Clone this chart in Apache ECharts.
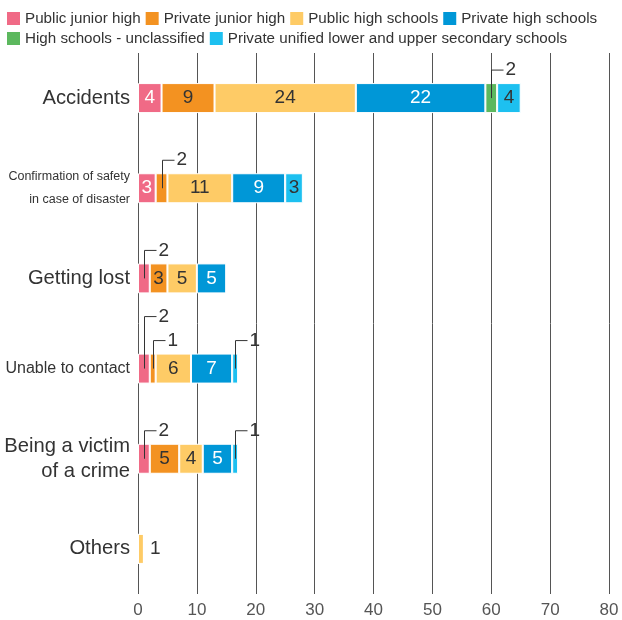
<!DOCTYPE html>
<html>
<head>
<meta charset="utf-8">
<script src="https://cdn.jsdelivr.net/npm/echarts@6/dist/echarts.min.js"></script>
<style>
  html, body { margin: 0; padding: 0; background: #fff; }
  #chart { width: 622px; height: 620px; }
</style>
</head>
<body>
<div id="chart"></div>
<script>
// Reasons given, by school type (number of schools)
const categories = [
  'Accidents',
  'Confirmation of safety\nin case of disaster',
  'Getting lost',
  'Unable to contact',
  'Being a victim\nof a crime',
  'Others'
];
const seriesNames = [
  'Public junior high',
  'Private junior high',
  'Public high schools',
  'Private high schools',
  'High schools - unclassified',
  'Private unified lower and upper secondary schools'
];
const publicJuniorHigh   = [4, 3, 2, 2, 2, 0];
const privateJuniorHigh  = [9, 2, 3, 1, 5, 0];
const publicHighSchools  = [24, 11, 5, 6, 4, 1];
const privateHighSchools = [22, 9, 5, 7, 5, 0];
const highUnclassified   = [2, 0, 0, 0, 0, 0];
const privateUnified     = [4, 3, 0, 1, 1, 0];
const xTicks = [0, 10, 20, 30, 40, 50, 60, 70, 80];

const values = [publicJuniorHigh, privateJuniorHigh, publicHighSchools,
                privateHighSchools, highUnclassified, privateUnified];
const colors = ['#F06A86', '#F39221', '#FECB66', '#0097D7', '#5CB85E', '#1DC0F0'];
const labelColors = ['#fff', '#333', '#333', '#fff', '#333', '#333'];

const BAR = 30;
const SANS = "'Liberation Sans', Arial, sans-serif";

// Small segments get a bracket leader; build them from the same arrays.
const callouts = [];
categories.forEach((c, ci) => {
  const nonZero = values.filter(v => v[ci] > 0).length;
  let start = 0;
  const row = [];
  values.forEach((v) => {
    const val = v[ci];
    if (val > 0 && val <= 2 && nonZero > 1) {
      row.push({ ci, mid: start + val / 2, val });
    }
    start += val;
  });
  // raise a leader when its right neighbour is too close
  for (let i = row.length - 1; i >= 0; i--) {
    let level = 0;
    if (i < row.length - 1 && row[i + 1].mid - row[i].mid < 3) level = row[i + 1].level + 1;
    row[i].level = level;
  }
  row.forEach(r => callouts.push([r.mid, r.ci, r.val, r.level]));
});

const barSeries = seriesNames.map((name, si) => ({
  name,
  type: 'bar',
  stack: 'total',
  barWidth: BAR,
  itemStyle: { color: colors[si], borderColor: '#fff', borderWidth: 1 },
  data: values[si].map((v, ci) => {
    const nonZero = values.filter(a => a[ci] > 0).length;
    const item = { value: v };
    if (v === 0) {
      item.label = { show: false };
    } else if (nonZero === 1 && v <= 2) {
      item.label = { show: true, position: 'right', color: '#333', distance: 6 };
    } else if (v <= 2) {
      item.label = { show: false };
    }
    return item;
  }),
  label: {
    show: true,
    position: 'inside',
    color: labelColors[si],
    fontFamily: SANS,
    fontSize: 19
  },
  emphasis: { disabled: true }
}));

const leaderSeries = {
  type: 'custom',
  z: 10,
  silent: true,
  data: callouts,
  encode: { x: 0, y: 1 },
  renderItem: function (params, api) {
    const p = api.coord([api.value(0), api.value(1)]);
    const top = p[1] - BAR / 2 - 13 - api.value(3) * 24;
    const x = Math.round(p[0]) + 0.5;
    return {
      type: 'group',
      children: [
        {
          type: 'polyline',
          shape: { points: [[x, p[1]], [x, top], [x + 12, top]] },
          style: { stroke: '#333', lineWidth: 1, fill: null }
        },
        {
          type: 'text',
          x: x + 14,
          y: top,
          style: {
            text: String(api.value(2)),
            fill: '#333',
            font: '19px ' + SANS,
            verticalAlign: 'middle',
            align: 'left'
          }
        }
      ]
    };
  }
};

const legendCommon = {
  left: 7,
  width: 615,
  padding: 0,
  itemWidth: 13,
  itemHeight: 13,
  itemGap: 5,
  icon: 'rect',
  selectedMode: false,
  itemStyle: { borderWidth: 0 },
  textStyle: { fontFamily: SANS, fontSize: 15.2, color: '#333' }
};

const chart = echarts.init(document.getElementById('chart'), null, { renderer: 'canvas' });
chart.setOption({
  animation: false,
  legend: [
    Object.assign({ top: 11, data: seriesNames.slice(0, 4) }, legendCommon),
    Object.assign({ top: 31, data: seriesNames.slice(4) }, legendCommon)
  ],
  grid: { left: 138, right: 13, top: 53, bottom: 26, containLabel: false, outerBoundsMode: 'none' },
  xAxis: {
    type: 'value',
    min: xTicks[0],
    max: xTicks[xTicks.length - 1],
    interval: 10,
    axisLine: { show: false },
    axisTick: { show: false },
    axisLabel: { color: '#555', fontFamily: SANS, fontSize: 17, margin: 8 },
    splitLine: { show: true, lineStyle: { color: '#555', width: 1 } }
  },
  yAxis: {
    type: 'category',
    inverse: true,
    data: categories,
    axisLine: { show: false },
    axisTick: { show: false },
    axisLabel: {
      margin: 8,
      formatter: function (v) {
        if (v.indexOf('Confirmation') === 0) return '{s|' + v.replace('\n', '}\n{s|') + '}';
        if (v === 'Unable to contact') return '{m|' + v + '}';
        return '{b|' + v.replace('\n', '}\n{b|') + '}';
      },
      rich: {
        b: { fontFamily: SANS, fontSize: 20.2, color: '#333', lineHeight: 25, align: 'right' },
        m: { fontFamily: SANS, fontSize: 16, color: '#333', align: 'right' },
        s: { fontFamily: SANS, fontSize: 12.5, color: '#333', lineHeight: 23, align: 'right' }
      }
    }
  },
  series: barSeries.concat([leaderSeries])
});
</script>
</body>
</html>
